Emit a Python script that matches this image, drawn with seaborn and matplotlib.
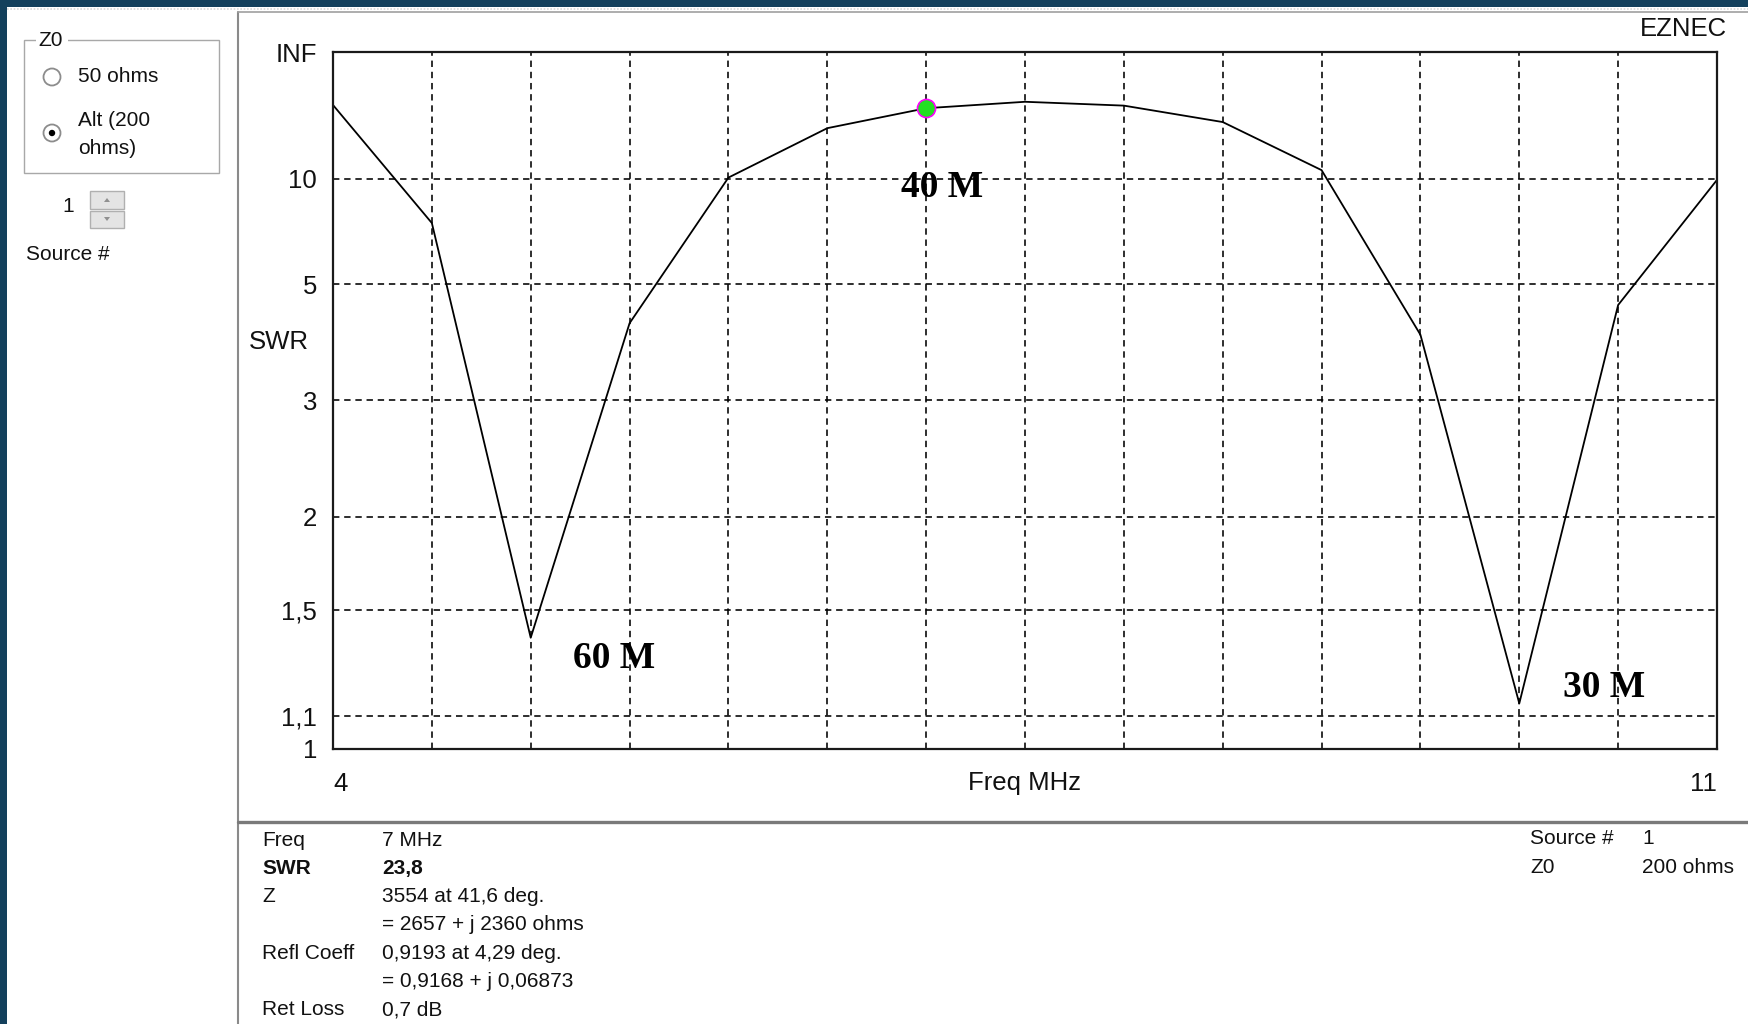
import numpy as np
import matplotlib
matplotlib.use("Agg")
import matplotlib.pyplot as plt
from matplotlib.patches import Rectangle, Ellipse, Polygon
from matplotlib.lines import Line2D
import seaborn as sns

# ---- SWR sweep (frequency in MHz, SWR at 200 ohms) ----
freq_mhz = [4.0, 4.5, 5.0, 5.5, 6.0, 6.5, 7.0, 7.5, 8.0, 8.5, 9.0, 9.5, 10.0, 10.5, 11.0]
swr = [25.3, 7.15, 1.38, 4.14, 10.1, 17.3, 23.8, 27.0, 25.0, 18.9, 10.8, 3.93, 1.14, 4.51, 9.9]

# cursor
cursor_freq = 7.0
cursor_swr = 23.8

# y axis ticks (SWR scale, linear in reflection coefficient)
swr_ticks = [1, 1.1, 1.5, 2, 3, 5, 10]
swr_tick_labels = ["1", "1,1", "1,5", "2", "3", "5", "10"]
SWR_TOP = 1e9          # stands in for infinity at the top of the scale
x_min, x_max, x_step = 4.0, 11.0, 0.5

# band annotations (text, freq, swr)
band_names = ["60 M", "40 M", "30 M"]
band_freqs = [5.42, 7.08, 10.43]
band_swrs = [1.30, 9.3, 1.195]

# data readout panel
info_keys = ["Freq", "SWR", "Z", "", "Refl Coeff", "", "Ret Loss"]
info_vals = ["7 MHz", "23,8", "3554 at 41,6 deg.", "= 2657 + j 2360 ohms",
             "0,9193 at 4,29 deg.", "= 0,9168 + j 0,06873", "0,7 dB"]
info_bold = [False, True, False, False, False, False, False]
src_keys = ["Source #", "Z0"]
src_vals = ["1", "200 ohms"]

W, H = 1749, 1024
sns.set_style("white")
plt.rcParams["font.family"] = ["Liberation Sans", "DejaVu Sans"]

fig = plt.figure(figsize=(W / 100, H / 100), dpi=100)
fig.patch.set_facecolor("white")


def fx(x):
    return x / W


def fy(y):
    return 1 - y / H


def frect(x0, y0, x1, y1, **kw):
    fig.patches.append(Rectangle((fx(x0), fy(y1)), fx(x1 - x0), (y1 - y0) / H,
                                 transform=fig.transFigure, **kw))


def fcircle(cx, cy, r, **kw):
    fig.patches.append(Ellipse((fx(cx), fy(cy)), 2 * r / W, 2 * r / H,
                               transform=fig.transFigure, **kw))


def fpoly(pts, **kw):
    fig.patches.append(Polygon([(fx(a), fy(b)) for a, b in pts], closed=True,
                               transform=fig.transFigure, **kw))


def fline(xs, ys, **kw):
    fig.lines.append(Line2D([fx(v) for v in xs], [fy(v) for v in ys],
                            transform=fig.transFigure, **kw))


# window frame
frame_col = "#13405c"
frect(0, 0, W, 7, facecolor=frame_col, edgecolor="none")
frect(0, 0, 7, H, facecolor=frame_col, edgecolor="none")
fline([7, W], [8.5, 8.5], color="#d8d8d8", lw=1.2, linestyle=(0, (1, 1)))

# panel borders
fline([238, 238], [12, H], color="#8a8a8a", lw=1.5)
fline([238, W], [12, 12], color="#a0a0a0", lw=1.2)
fline([238, W], [821.5, 821.5], color="#7a7a7a", lw=2.4)

# Z0 group box
frect(24, 40, 219, 173, facecolor="none", edgecolor="#a8a8a8", lw=1.0)
frect(36, 30, 68, 50, facecolor="white", edgecolor="none")
ui = dict(fontsize=15, color="#111111", va="center")
fig.text(fx(38), fy(40), "Z0", ha="left", **ui)
for cy in (77, 133):
    fcircle(52, cy, 8.5, facecolor="white", edgecolor="#8c8c8c", lw=1.3)
fcircle(52, 133, 3.2, facecolor="black", edgecolor="none")
fig.text(fx(78), fy(77), "50 ohms", ha="left", **ui)
fig.text(fx(78), fy(121), "Alt (200", ha="left", **ui)
fig.text(fx(78), fy(149), "ohms)", ha="left", **ui)

# spin control
fig.text(fx(68), fy(206), "1", ha="center", **ui)
frect(90, 191, 124, 209, facecolor="#e4e4e4", edgecolor="#b0b0b0", lw=1.0)
frect(90, 211, 124, 228, facecolor="#e4e4e4", edgecolor="#b0b0b0", lw=1.0)
fpoly([(104, 202), (110, 202), (107, 198)], facecolor="#909090", edgecolor="none")
fpoly([(104, 217), (110, 217), (107, 221)], facecolor="#909090", edgecolor="none")
fig.text(fx(26), fy(254), "Source #", ha="left", **ui)

# ---- SWR chart ----
ax = fig.add_axes([fx(333), fy(749), fx(1717 - 333), (749 - 52) / H])


def swr_to_rho(s):
    s = np.asarray(s, dtype=float)
    with np.errstate(divide="ignore", invalid="ignore"):
        return (s - 1.0) / (s + 1.0)


def rho_to_swr(r):
    r = np.asarray(r, dtype=float)
    with np.errstate(divide="ignore", invalid="ignore"):
        return (1.0 + r) / (1.0 - r)


ax.set_yscale("function", functions=(swr_to_rho, rho_to_swr))

sns.lineplot(x=freq_mhz, y=swr, ax=ax, color="black", linewidth=1.3,
             estimator=None, sort=False)
sns.scatterplot(x=[cursor_freq], y=[cursor_swr], ax=ax, s=170, color="#22e022",
                edgecolor="#ff00ff", linewidth=1.2, zorder=5)

ax.set_xlim(x_min, x_max)
ax.set_ylim(1, SWR_TOP)

xt = np.arange(x_min, x_max + 1e-9, x_step)
xlabels = [""] * len(xt)
xlabels[0] = "4"
xlabels[-1] = "11"
ax.set_xticks(xt)
ax.set_xticklabels(xlabels)
xtl = ax.get_xticklabels()
xtl[0].set_horizontalalignment("left")
xtl[-1].set_horizontalalignment("right")

ax.set_yticks(swr_ticks + [SWR_TOP])
ax.set_yticklabels(swr_tick_labels + ["INF"])
ax.minorticks_off()

ax.tick_params(axis="x", length=0, pad=16.5, labelsize=18.5, labelcolor="#111111")
ax.tick_params(axis="y", length=0, pad=11.5, labelsize=18.5, labelcolor="#111111")

ax.grid(True, color="black", linestyle=(0, (4, 3)), linewidth=1.15)
ax.set_axisbelow(True)
for sp in ax.spines.values():
    sp.set_visible(True)
    sp.set_color("#1a1a1a")
    sp.set_linewidth(1.6)

ax.set_xlabel("Freq MHz", fontsize=18.5, color="#111111")
ax.xaxis.set_label_coords(0.5, -0.032)
ax.set_ylabel("")

for name, f, s in zip(band_names, band_freqs, band_swrs):
    ax.text(f, s, name, ha="center", va="center", fontsize=27,
            fontweight="bold", family="Liberation Serif", color="black")

fig.text(fx(1727), fy(29), "EZNEC", ha="right", va="center",
         fontsize=18.5, color="#111111")
fig.text(fx(279), fy(342), "SWR", ha="center", va="center",
         fontsize=18.5, color="#111111")

# ---- readout panel ----
for i, (k, v, b) in enumerate(zip(info_keys, info_vals, info_bold)):
    y = 840 + i * 28.3
    w = "bold" if b else "normal"
    fig.text(fx(262), fy(y), k, ha="left", va="center", fontsize=15,
             fontweight=w, color="#111111")
    fig.text(fx(382), fy(y), v, ha="left", va="center", fontsize=15,
             fontweight=w, color="#111111")
for i, (k, v) in enumerate(zip(src_keys, src_vals)):
    y = 839 + i * 28.3
    fig.text(fx(1530), fy(y), k, ha="left", va="center", fontsize=15, color="#111111")
    fig.text(fx(1642), fy(y), v, ha="left", va="center", fontsize=15, color="#111111")

fig.savefig("out.png", dpi=100)
